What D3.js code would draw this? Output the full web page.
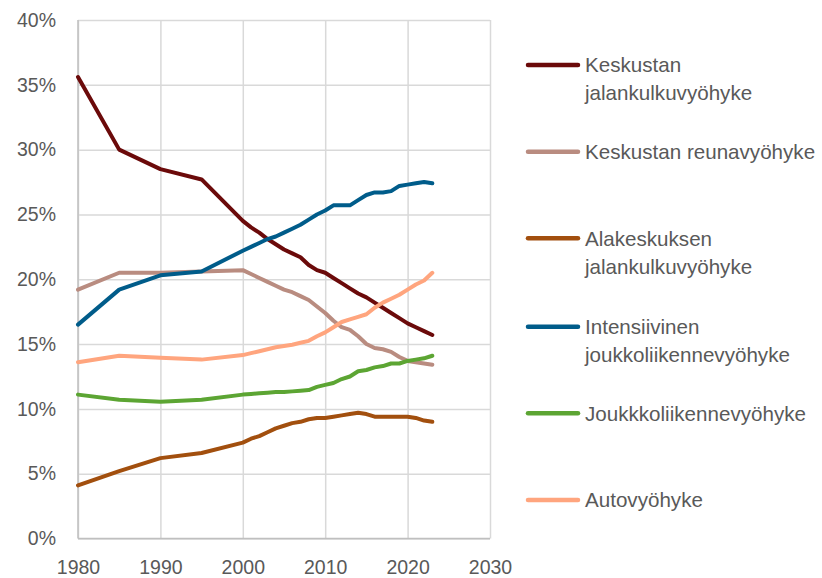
<!DOCTYPE html>
<html>
<head>
<meta charset="utf-8">
<script src="https://cdn.jsdelivr.net/npm/d3@7"></script>
<style>
  body { margin: 0; background: #fff; }
  text { font-family: "Liberation Sans", Arial, sans-serif; fill: #595959; }
</style>
</head>
<body>
<div id="chart"></div>
<script>
// years: five-year steps first, then yearly
var years = [1980, 1985, 1990, 1995, 2000, 2001, 2002, 2003, 2004, 2005, 2006, 2007, 2008, 2009,
             2010, 2011, 2012, 2013, 2014, 2015, 2016, 2017, 2018, 2019, 2020, 2021, 2022, 2023];

var keskustaJalankulku = [35.6, 30.0, 28.5, 27.7, 24.5, 24.0, 23.6, 23.1, 22.7, 22.3, 22.0, 21.7, 21.1, 20.7,
                          20.5, 20.1, 19.7, 19.3, 18.9, 18.6, 18.2, 17.8, 17.4, 17.0, 16.6, 16.3, 16.0, 15.7];
var keskustaReuna = [19.2, 20.5, 20.5, 20.6, 20.7, 20.4, 20.1, 19.8, 19.5, 19.2, 19.0, 18.7, 18.4, 17.9,
                     17.4, 16.8, 16.3, 16.1, 15.6, 15.0, 14.7, 14.6, 14.4, 14.0, 13.7, 13.6, 13.5, 13.4];
var alakeskus = [4.1, 5.2, 6.2, 6.6, 7.4, 7.7, 7.9, 8.2, 8.5, 8.7, 8.9, 9.0, 9.2, 9.3,
                 9.3, 9.4, 9.5, 9.6, 9.7, 9.6, 9.4, 9.4, 9.4, 9.4, 9.4, 9.3, 9.1, 9.0];
var intensiivinen = [16.5, 19.2, 20.3, 20.6, 22.2, 22.5, 22.8, 23.1, 23.3, 23.6, 23.9, 24.2, 24.6, 25.0,
                     25.3, 25.7, 25.7, 25.7, 26.1, 26.5, 26.7, 26.7, 26.8, 27.2, 27.3, 27.4, 27.5, 27.4];
var joukkoliikenne = [11.1, 10.7, 10.55, 10.7, 11.1, 11.15, 11.2, 11.25, 11.3, 11.3, 11.35, 11.4, 11.45, 11.7,
                      11.85, 12.0, 12.3, 12.5, 12.9, 13.0, 13.2, 13.3, 13.5, 13.5, 13.7, 13.8, 13.9, 14.1];
var auto = [13.6, 14.1, 13.95, 13.8, 14.15, 14.3, 14.45, 14.6, 14.75, 14.85, 14.95, 15.1, 15.25, 15.6,
            15.9, 16.3, 16.7, 16.9, 17.1, 17.3, 17.8, 18.2, 18.5, 18.8, 19.2, 19.6, 19.9, 20.5];

var seriesNames = [["Keskustan", "jalankulkuvyöhyke"], ["Keskustan reunavyöhyke"], ["Alakeskuksen", "jalankulkuvyöhyke"],
                   ["Intensiivinen", "joukkoliikennevyöhyke"], ["Joukkkoliikennevyöhyke"], ["Autovyöhyke"]];
var seriesValues = [keskustaJalankulku, keskustaReuna, alakeskus, intensiivinen, joukkoliikenne, auto];
var colors = ["#6B0A0A", "#B98C80", "#A24F0E", "#005C8A", "#5CA533", "#FFA57E"];

var xTicks = [1980, 1990, 2000, 2010, 2020, 2030];
var yTicks = [0, 5, 10, 15, 20, 25, 30, 35, 40];

var W = 822, H = 578;
var margin = {top: 20, right: 332, bottom: 39.5, left: 78},
	width = W - margin.left - margin.right,
	height = H - margin.top - margin.bottom;

var svg = d3.select("#chart")
	.append("svg")
		.attr("width", W)
		.attr("height", H)
	.append("g")
		.attr("transform", "translate(" + margin.left + "," + margin.top + ")");

var x = d3.scaleLinear().domain([1980, 2030]).range([0, width]);
var y = d3.scaleLinear().domain([0, 40]).range([height, 0]);

// grid
svg.append("g")
	.call(d3.axisLeft(y).tickValues(yTicks).tickSize(-width).tickFormat(""))
	.call(function(g) { g.select(".domain").remove(); })
	.selectAll("line").attr("stroke", "#D9D9D9").attr("stroke-width", 1.5);
svg.append("g")
	.attr("transform", "translate(0," + height + ")")
	.call(d3.axisBottom(x).tickValues(xTicks).tickSize(-height).tickFormat(""))
	.call(function(g) { g.select(".domain").remove(); })
	.selectAll("line").attr("stroke", "#D9D9D9").attr("stroke-width", 1.5);

// axis lines
svg.append("line").attr("x1", 0).attr("x2", 0).attr("y1", 0).attr("y2", height)
	.attr("stroke", "#BFBFBF").attr("stroke-width", 1.5);
svg.append("line").attr("x1", 0).attr("x2", width).attr("y1", height).attr("y2", height)
	.attr("stroke", "#BFBFBF").attr("stroke-width", 1.5);

// tick labels
var yAxis = svg.append("g")
	.call(d3.axisLeft(y).tickValues(yTicks).tickSize(0).tickPadding(22).tickFormat(function(d) { return d + "%"; }));
yAxis.select(".domain").remove();
yAxis.selectAll("text").style("font-size", "19.5px").attr("fill", "#595959").attr("font-family", null);

var xAxis = svg.append("g")
	.attr("transform", "translate(0," + height + ")")
	.call(d3.axisBottom(x).tickValues(xTicks).tickSize(0).tickPadding(22).tickFormat(d3.format("d")));
xAxis.select(".domain").remove();
xAxis.selectAll("text").style("font-size", "19.5px").attr("fill", "#595959").attr("font-family", null);

// lines
var line = d3.line()
	.x(function(d, i) { return x(years[i]); })
	.y(function(d) { return y(d); });

svg.append("g")
	.selectAll("path")
	.data(seriesValues)
	.enter().append("path")
		.attr("d", line)
		.attr("fill", "none")
		.attr("stroke", function(d, i) { return colors[i]; })
		.attr("stroke-width", 4)
		.attr("stroke-linejoin", "round")
		.attr("stroke-linecap", "round");

// legend
var legendY = [65, 151.7, 238.3, 326.7, 413.3, 500];
var legend = d3.select("svg").append("g");
var items = legend.selectAll("g")
	.data(seriesNames)
	.enter().append("g")
		.attr("transform", function(d, i) { return "translate(526," + legendY[i] + ")"; });
items.append("line")
	.attr("x1", 2).attr("x2", 52)
	.attr("stroke", function(d, i) { return colors[i]; })
	.attr("stroke-width", 4.5)
	.attr("stroke-linecap", "round");
items.each(function(d) {
	var t = d3.select(this).append("text")
		.attr("x", 59)
		.style("font-size", "20.6px");
	d.forEach(function(s, j) {
		t.append("tspan").attr("x", 59).attr("y", j * 28).attr("dy", "0.35em").text(s);
	});
});
</script>
</body>
</html>
